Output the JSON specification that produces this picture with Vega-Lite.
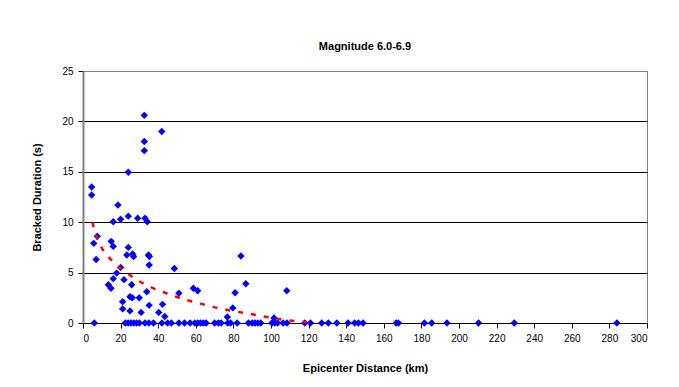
{
  "$schema": "https://vega.github.io/schema/vega-lite/v6.json",
  "width": 564,
  "height": 252,
  "autosize": {"type": "none"},
  "padding": {"left": 83, "top": 71, "right": 32, "bottom": 64},
  "background": "white",
  "config": {
    "font": "Liberation Sans",
    "view": {"stroke": "#808080", "strokeWidth": 1}
  },
  "title": {
    "text": "Magnitude 6.0-6.9",
    "fontSize": 11,
    "fontWeight": "bold",
    "color": "black",
    "font": "Liberation Sans",
    "offset": 14,
    "anchor": "middle"
  },
  "datasets": {
    "pts": [
      {"d": 4.6, "t": 13.5}, {"d": 4.6, "t": 12.7}, {"d": 18.6, "t": 11.7}, {"d": 24.1, "t": 14.95},
      {"d": 32.6, "t": 20.6}, {"d": 41.9, "t": 19.0}, {"d": 32.6, "t": 18.0}, {"d": 32.6, "t": 17.1},
      {"d": 16.1, "t": 10.05}, {"d": 20.0, "t": 10.3}, {"d": 24.1, "t": 10.6}, {"d": 29.1, "t": 10.4},
      {"d": 33.0, "t": 10.4}, {"d": 34.2, "t": 10.05},
      {"d": 7.6, "t": 8.6}, {"d": 5.7, "t": 7.9}, {"d": 15.0, "t": 8.1}, {"d": 16.1, "t": 7.6}, {"d": 24.1, "t": 7.5},
      {"d": 7.0, "t": 6.3}, {"d": 23.3, "t": 6.75}, {"d": 26.4, "t": 6.85}, {"d": 26.9, "t": 6.6},
      {"d": 34.8, "t": 6.75}, {"d": 35.3, "t": 6.6}, {"d": 35.2, "t": 5.75},
      {"d": 48.6, "t": 5.4}, {"d": 20.0, "t": 5.5}, {"d": 17.9, "t": 4.95}, {"d": 16.1, "t": 4.4},
      {"d": 21.8, "t": 4.3}, {"d": 13.5, "t": 3.8}, {"d": 14.9, "t": 3.45}, {"d": 25.9, "t": 3.8}, {"d": 33.9, "t": 3.1},
      {"d": 51.0, "t": 2.95}, {"d": 58.7, "t": 3.45}, {"d": 61.0, "t": 3.2}, {"d": 25.0, "t": 2.6},
      {"d": 26.2, "t": 2.5}, {"d": 29.9, "t": 2.5}, {"d": 21.1, "t": 2.1}, {"d": 35.2, "t": 1.75},
      {"d": 42.3, "t": 1.85}, {"d": 21.1, "t": 1.4}, {"d": 25.0, "t": 1.2}, {"d": 30.9, "t": 1.05},
      {"d": 40.3, "t": 1.05}, {"d": 43.5, "t": 0.65},
      {"d": 84.0, "t": 6.65}, {"d": 86.6, "t": 3.9}, {"d": 80.9, "t": 3.0}, {"d": 108.4, "t": 3.2},
      {"d": 79.7, "t": 1.5}, {"d": 76.8, "t": 0.6}, {"d": 101.6, "t": 0.5},
      {"d": 6.0, "t": 0}, {"d": 22.5, "t": 0}, {"d": 24.0, "t": 0}, {"d": 25.5, "t": 0}, {"d": 27.0, "t": 0},
      {"d": 28.5, "t": 0}, {"d": 30.0, "t": 0}, {"d": 33.0, "t": 0}, {"d": 35.0, "t": 0}, {"d": 37.5, "t": 0},
      {"d": 42.0, "t": 0}, {"d": 45.0, "t": 0}, {"d": 47.0, "t": 0}, {"d": 51.0, "t": 0}, {"d": 54.0, "t": 0},
      {"d": 57.0, "t": 0}, {"d": 59.5, "t": 0}, {"d": 61.0, "t": 0}, {"d": 62.5, "t": 0}, {"d": 64.0, "t": 0},
      {"d": 65.5, "t": 0}, {"d": 70.0, "t": 0}, {"d": 72.0, "t": 0}, {"d": 73.5, "t": 0}, {"d": 77.0, "t": 0},
      {"d": 78.5, "t": 0}, {"d": 82.0, "t": 0}, {"d": 88.0, "t": 0}, {"d": 90.0, "t": 0}, {"d": 91.5, "t": 0},
      {"d": 93.0, "t": 0}, {"d": 94.5, "t": 0}, {"d": 100.5, "t": 0}, {"d": 102.0, "t": 0}, {"d": 103.5, "t": 0},
      {"d": 106.5, "t": 0}, {"d": 108.5, "t": 0}, {"d": 118.0, "t": 0}, {"d": 121.0, "t": 0}, {"d": 127.0, "t": 0},
      {"d": 130.5, "t": 0}, {"d": 135.0, "t": 0}, {"d": 141.0, "t": 0}, {"d": 144.5, "t": 0}, {"d": 146.5, "t": 0},
      {"d": 149.0, "t": 0}, {"d": 166.6, "t": 0}, {"d": 167.8, "t": 0}, {"d": 181.6, "t": 0}, {"d": 185.5, "t": 0},
      {"d": 193.6, "t": 0}, {"d": 210.4, "t": 0}, {"d": 229.4, "t": 0}, {"d": 284.0, "t": 0}
    ],
    "trend": [
      {"d": 5, "t": 10.0}, {"d": 7.3, "t": 8.5}, {"d": 10.8, "t": 7.2}, {"d": 15.6, "t": 6.15},
      {"d": 22, "t": 5.15}, {"d": 27.7, "t": 4.4}, {"d": 34.4, "t": 3.7}, {"d": 42.2, "t": 3.1},
      {"d": 49.5, "t": 2.6}, {"d": 56.6, "t": 2.2}, {"d": 64, "t": 1.85}, {"d": 71.2, "t": 1.5},
      {"d": 78.2, "t": 1.25}, {"d": 85.9, "t": 1.0}, {"d": 93.3, "t": 0.75}, {"d": 100.8, "t": 0.5},
      {"d": 107.5, "t": 0.3}, {"d": 115, "t": 0.15}, {"d": 122.6, "t": 0.03}
    ]
  },
  "encoding": {
    "x": {
      "field": "d", "type": "quantitative",
      "scale": {"domain": [0, 300], "nice": false, "zero": true},
      "axis": {
        "title": "Epicenter Distance (km)",
        "values": [0, 20, 40, 60, 80, 100, 120, 140, 160, 180, 200, 220, 240, 260, 280, 300],
        "grid": false,
        "domainColor": "black", "domainWidth": 1,
        "tickColor": "black", "tickSize": 5,
        "labelFontSize": 10, "labelColor": "black", "labelPadding": 5,
        "titleFontSize": 11, "titleFontWeight": "bold", "titleColor": "black", "titlePadding": 19
      }
    },
    "y": {
      "field": "t", "type": "quantitative",
      "scale": {"domain": [0, 25], "nice": false},
      "axis": {
        "title": "Bracked Duration (s)",
        "values": [0, 5, 10, 15, 20, 25],
        "grid": true,
        "gridColor": {"condition": {"test": "datum.value == 25", "value": "#808080"}, "value": "black"},
        "gridWidth": 1, "gridOpacity": 1,
        "domainColor": "#808080", "domainWidth": 2,
        "tickColor": "black", "tickSize": 5,
        "labelFontSize": 10, "labelColor": "black", "labelPadding": 5,
        "titleFontSize": 11, "titleFontWeight": "bold", "titleColor": "black", "titlePadding": 19
      }
    }
  },
  "layer": [
    {
      "data": {"name": "pts"},
      "mark": {"type": "point", "shape": "diamond", "filled": true, "color": "#0000FF", "opacity": 1, "size": 55, "clip": false}
    },
    {
      "data": {"name": "trend"},
      "mark": {"type": "line", "color": "#FF0000", "strokeWidth": 2.5, "strokeDash": [5, 8], "interpolate": "monotone"}
    }
  ]
}
